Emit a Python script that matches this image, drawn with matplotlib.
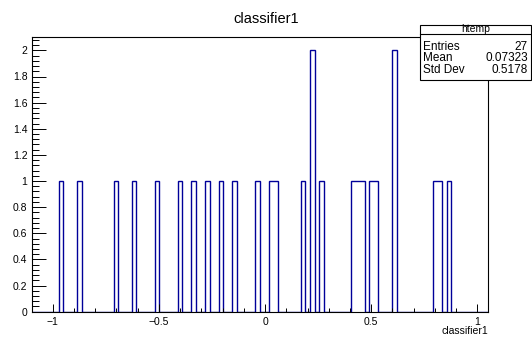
import numpy as np
import matplotlib
matplotlib.use("Agg")
import matplotlib.pyplot as plt
from matplotlib.ticker import MultipleLocator, FuncFormatter
from matplotlib.patches import Rectangle
from matplotlib.lines import Line2D

plt.rcParams['font.family'] = ['Liberation Sans', 'DejaVu Sans']

# ---- data -------------------------------------------------------------
title = "classifier1"
x_label = "classifier1"
hist_name = "htemp"
n_bins = 100
x_range = (-1.1, 1.05)
y_max = 2.1

# centres of the filled bins and their contents
bin_centers = [-0.96075, -0.87475, -0.70275, -0.61675, -0.50925, -0.40175,
               -0.33725, -0.27275, -0.20825, -0.14375, -0.03625, 0.02825,
               0.04975, 0.17875, 0.22175, 0.26475, 0.41525, 0.43675,
               0.45825, 0.50125, 0.52275, 0.60875, 0.80225, 0.82375,
               0.86675]
bin_counts = [1, 1, 1, 1, 1, 1,
              1, 1, 1, 1, 1, 1,
              1, 1, 2, 1, 1, 1,
              1, 1, 1, 2, 1, 1,
              1]

stats_labels = ["Entries", "Mean", "Std Dev"]
stats_values = ["27", "0.07323", "0.5178"]

# ---- figure -----------------------------------------------------------
W, H = 532, 338
fig = plt.figure(figsize=(W / 100, H / 100), dpi=100)
fig.patch.set_facecolor("white")

def fx(px):
    return px / W

def fy(py):
    return 1 - py / H

left, right, top, bottom = 31.5, 488.0, 37.3, 311.7
ax = fig.add_axes([fx(left), fy(bottom), (right - left) / W, (bottom - top) / H])

counts, edges = np.histogram(bin_centers, bins=n_bins, range=x_range,
                             weights=bin_counts)
ax.stairs(counts, edges, color="#000099", lw=1.0, baseline=0)

ax.set_xlim(*x_range)
ax.set_ylim(0, y_max)

def root_fmt(v, pos):
    s = "%g" % round(v, 6)
    if s == "-0":
        s = "0"
    return s.replace("-", "\u2212")

ax.xaxis.set_major_locator(MultipleLocator(0.5))
ax.xaxis.set_minor_locator(MultipleLocator(0.1))
ax.yaxis.set_major_locator(MultipleLocator(0.2))
ax.yaxis.set_minor_locator(MultipleLocator(0.04))
ax.xaxis.set_major_formatter(FuncFormatter(root_fmt))
ax.yaxis.set_major_formatter(FuncFormatter(root_fmt))

ax.tick_params(which="both", direction="in", top=False, right=False,
               labelsize=7.5, width=0.7, colors="black")
ax.tick_params(axis="x", which="major", length=5.9, pad=4)
ax.tick_params(axis="x", which="minor", length=3.0)
ax.tick_params(axis="y", which="major", length=9.9, pad=3)
ax.tick_params(axis="y", which="minor", length=4.9)
for sp in ax.spines.values():
    sp.set_linewidth(0.8)
    sp.set_color("black")

# titles
fig.text(fx(266), fy(19), title, ha="center", va="center", fontsize=10.5)
fig.text(fx(488), fy(331), x_label, ha="right", va="center", fontsize=7.5)

# statistics box
bx0, bx1, by0, by1 = 420, 531, 25, 80
box = Rectangle((fx(bx0), fy(by1)), (bx1 - bx0) / W, (by1 - by0) / H,
                transform=fig.transFigure, facecolor="white",
                edgecolor="black", lw=0.8, zorder=5)
fig.add_artist(box)
div_y = 34
fig.add_artist(Line2D([fx(bx0), fx(bx1)], [fy(div_y), fy(div_y)],
                      transform=fig.transFigure, color="black", lw=0.8,
                      zorder=6))
fig.text(fx((bx0 + bx1) / 2), fy(29.5), hist_name, ha="center", va="center",
         fontsize=7.5, zorder=7)
row_y = [46.5, 58, 70]
for lab, val, yy in zip(stats_labels, stats_values, row_y):
    fig.text(fx(bx0 + 3), fy(yy), lab, ha="left", va="center",
             fontsize=8.5, zorder=7)
    fig.text(fx(bx1 - 3), fy(yy), val, ha="right", va="center",
             fontsize=8.5, zorder=7)

fig.savefig("out.png", dpi=100, facecolor="white")
